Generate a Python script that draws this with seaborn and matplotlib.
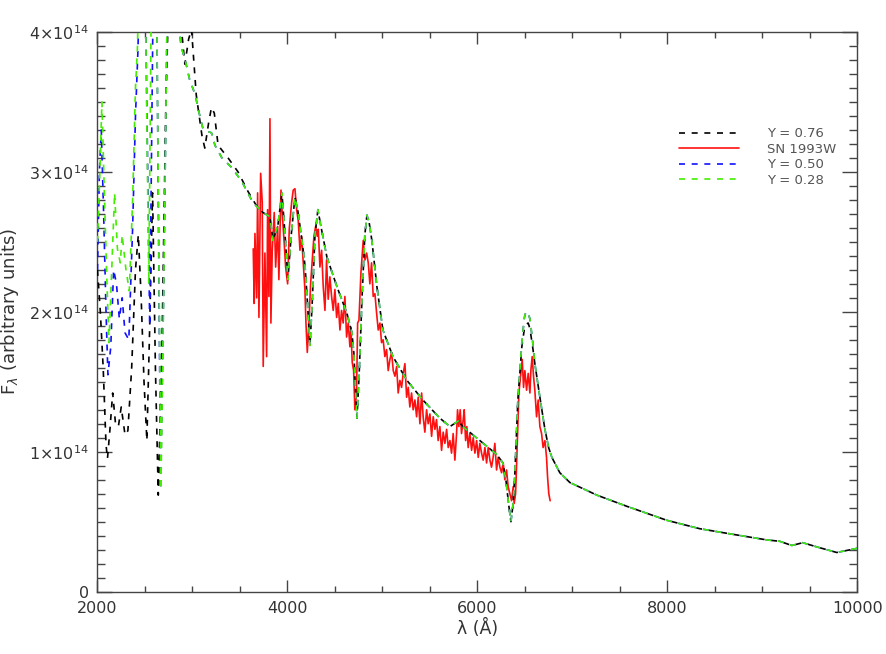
import matplotlib
matplotlib.use("Agg")
import matplotlib.pyplot as plt
import seaborn as sns
import numpy as np
import pandas as pd
from matplotlib.lines import Line2D
from matplotlib.ticker import MultipleLocator, FixedLocator, FixedFormatter

# ---------------- data (flux in units of 1e14, arbitrary) ----------------
# model Y = 0.76 (black)
black_wave = [2000, 2030, 2060, 2090, 2105, 2130, 2160, 2190, 2220, 2250, 2290, 2320,
              2360, 2400, 2430, 2460, 2490, 2520, 2550, 2580, 2610, 2640, 2680, 2720,
              2760, 2840, 2880, 2920, 2960, 2990, 3040, 3100, 3130, 3170, 3200, 3230,
              3270, 3375, 3480, 3585, 3690, 3742, 3816, 3847, 3900, 3942, 3975, 4005,
              4040, 4079, 4110, 4153, 4185, 4205, 4237, 4260, 4290, 4321, 4350, 4416,
              4521, 4626, 4679, 4700, 4711, 4732, 4755, 4784, 4815, 4837, 4860, 4889,
              4942, 5005, 5111, 5258, 5426, 5605, 5711, 5800, 5847, 6026, 6205, 6268,
              6300, 6330, 6353, 6375, 6395, 6426, 6468, 6495, 6511, 6535, 6553, 6580,
              6605, 6658, 6711, 6750, 6784, 6868, 6974, 7258, 7574, 7995, 8342, 8689,
              9047, 9184, 9311, 9426, 9574, 9784, 10000]
black_flux = [2.30, 2.00, 1.60, 1.05, 0.95, 1.15, 1.42, 1.20, 1.18, 1.32, 1.12, 1.15,
              1.60, 2.30, 2.55, 2.10, 1.50, 1.08, 1.90, 2.85, 1.60, 0.69, 1.80, 3.50,
              4.50, 4.50, 4.05, 3.77, 3.95, 4.02, 3.55, 3.26, 3.17, 3.35, 3.46, 3.42,
              3.19, 3.10, 3.00, 2.86, 2.74, 2.71, 2.68, 2.51, 2.62, 2.85, 2.55, 2.23,
              2.55, 2.82, 2.72, 2.51, 2.33, 2.13, 1.76, 2.05, 2.55, 2.73, 2.62, 2.39,
              2.18, 1.99, 1.85, 1.70, 1.53, 1.24, 1.55, 2.08, 2.55, 2.69, 2.64, 2.51,
              2.18, 1.87, 1.68, 1.51, 1.37, 1.24, 1.18, 1.22, 1.18, 1.08, 0.98, 0.92,
              0.80, 0.62, 0.50, 0.62, 0.85, 1.37, 1.75, 1.88, 1.91, 1.92, 1.88, 1.76,
              1.63, 1.39, 1.16, 1.03, 0.96, 0.85, 0.78, 0.69, 0.61, 0.51, 0.45, 0.41,
              0.37, 0.36, 0.33, 0.35, 0.32, 0.28, 0.31]

# optical part shared by the Y = 0.50 and Y = 0.28 models
opt_wave = [2760, 2850, 2880, 2930, 2970, 3030, 3060, 3110, 3150, 3200, 3237, 3310,
            3415, 3521, 3637, 3742, 3816, 3847, 3900, 3942, 3975, 4005, 4040, 4079,
            4110, 4153, 4185, 4205, 4237, 4260, 4290, 4321, 4350, 4416, 4521, 4626,
            4679, 4700, 4711, 4732, 4755, 4784, 4815, 4837, 4860, 4889, 4942, 5005,
            5111, 5258, 5426, 5605, 5711, 5800, 5847, 6026, 6205, 6268, 6300, 6330,
            6353, 6375, 6395, 6426, 6468, 6495, 6511, 6535, 6553, 6580, 6605, 6658,
            6711, 6750, 6784, 6868, 6974, 7258, 7574, 7995, 8342, 8689, 9047, 9184,
            9311, 9426, 9574, 9784, 10000]
opt_flux = [4.50, 4.10, 3.90, 3.78, 3.66, 3.55, 3.45, 3.31, 3.29, 3.28, 3.19, 3.10,
            3.03, 2.93, 2.78, 2.71, 2.68, 2.51, 2.62, 2.85, 2.55, 2.23, 2.55, 2.82,
            2.72, 2.51, 2.33, 2.13, 1.76, 2.05, 2.55, 2.73, 2.62, 2.39, 2.18, 1.99,
            1.85, 1.70, 1.53, 1.24, 1.55, 2.08, 2.55, 2.69, 2.64, 2.51, 2.18, 1.87,
            1.68, 1.51, 1.37, 1.24, 1.18, 1.22, 1.18, 1.08, 0.98, 0.92, 0.80, 0.62,
            0.50, 0.62, 0.85, 1.37, 1.78, 1.96, 2.00, 1.99, 1.95, 1.80, 1.63, 1.39,
            1.16, 1.03, 0.96, 0.85, 0.78, 0.69, 0.61, 0.51, 0.45, 0.41, 0.37, 0.36,
            0.33, 0.35, 0.32, 0.28, 0.31]

# ultraviolet part, Y = 0.50 (blue)
blue_uv_wave = [2000, 2020, 2040, 2065, 2090, 2110, 2140, 2170, 2200, 2230, 2260, 2290,
                2330, 2370, 2400, 2425, 2450, 2500, 2550, 2590, 2620, 2665, 2700, 2740]
blue_uv_flux = [2.30, 3.00, 3.30, 2.70, 2.00, 1.55, 1.75, 2.30, 2.20, 1.95, 2.10, 1.85,
                1.80, 2.60, 3.40, 3.85, 4.50, 4.50, 1.90, 4.50, 4.50, 0.73, 2.30, 4.50]

# ultraviolet part, Y = 0.28 (green)
green_uv_wave = [2000, 2025, 2047, 2070, 2100, 2121, 2150, 2180, 2210, 2240, 2260, 2300,
                 2335, 2370, 2400, 2420, 2440, 2500, 2540, 2570, 2620, 2668, 2700, 2740]
green_uv_flux = [2.50, 3.00, 3.50, 2.90, 2.20, 1.78, 2.30, 2.85, 2.45, 2.35, 2.55, 2.30,
                 2.15, 2.80, 3.60, 3.87, 4.50, 4.50, 2.20, 4.50, 4.50, 0.73, 2.30, 4.50]

# observed SN 1993W spectrum (red)
red_wave = [3640, 3650, 3658, 3676, 3686, 3700, 3718, 3735, 3745, 3763, 3781, 3791,
            3805, 3816, 3826, 3840, 3861, 3876, 3897, 3910, 3932, 3945, 3966, 3981,
            4002, 4019, 4044, 4061, 4079, 4097, 4114, 4132, 4149, 4166, 4184, 4195,
            4209, 4226, 4244, 4261, 4279, 4297, 4314, 4325, 4342, 4360, 4377, 4395,
            4412, 4429, 4447, 4465, 4482, 4500, 4518, 4535, 4553, 4570, 4587, 4605,
            4623, 4640, 4658, 4668, 4682, 4697, 4710, 4728, 4739, 4753, 4774, 4798,
            4816, 4834, 4851, 4868, 4886, 4903, 4921, 4939, 4956, 4974, 4991, 5008,
            5026, 5044, 5061, 5079, 5097, 5114, 5132, 5150, 5166, 5184, 5202, 5219,
            5237, 5255, 5272, 5289, 5307, 5324, 5342, 5360, 5377, 5395, 5413, 5429,
            5447, 5465, 5482, 5500, 5518, 5535, 5553, 5570, 5587, 5605, 5623, 5640,
            5658, 5676, 5693, 5711, 5728, 5745, 5763, 5781, 5791, 5805, 5819, 5833,
            5851, 5861, 5876, 5889, 5903, 5921, 5939, 5956, 5974, 5992, 6009, 6026,
            6044, 6061, 6079, 6097, 6114, 6132, 6149, 6166, 6184, 6202, 6219, 6237,
            6255, 6272, 6289, 6307, 6324, 6342, 6360, 6377, 6387, 6402, 6412, 6423,
            6437, 6458, 6472, 6486, 6500, 6518, 6535, 6553, 6563, 6577, 6591, 6605,
            6623, 6640, 6658, 6676, 6692, 6711, 6728, 6739, 6752, 6766]
red_flux = [2.45, 2.06, 2.56, 2.10, 2.85, 1.96, 2.99, 2.78, 1.61, 2.42, 1.68, 2.73,
            2.11, 3.38, 1.92, 2.44, 2.71, 2.32, 2.61, 2.23, 2.87, 2.71, 2.49, 2.32,
            2.20, 2.59, 2.78, 2.87, 2.88, 2.73, 2.65, 2.44, 2.54, 2.35, 2.16, 1.92,
            1.71, 1.92, 2.20, 2.37, 2.54, 2.61, 2.54, 2.59, 2.32, 2.44, 2.18, 2.01,
            2.37, 2.09, 2.25, 2.11, 2.01, 2.16, 1.96, 2.06, 1.87, 2.01, 1.92, 2.11,
            1.82, 1.92, 1.75, 1.89, 1.64, 1.58, 1.30, 1.42, 1.92, 1.94, 2.28, 2.51,
            2.37, 2.42, 2.35, 2.20, 2.35, 2.11, 2.13, 1.99, 1.87, 1.92, 1.78, 1.80,
            1.68, 1.73, 1.58, 1.66, 1.71, 1.58, 1.54, 1.61, 1.42, 1.51, 1.46, 1.56,
            1.63, 1.39, 1.46, 1.32, 1.42, 1.30, 1.37, 1.25, 1.39, 1.20, 1.42, 1.25,
            1.14, 1.30, 1.20, 1.27, 1.11, 1.25, 1.16, 1.23, 1.08, 1.18, 1.01, 1.14,
            1.06, 1.16, 1.03, 1.08, 0.99, 1.13, 0.94, 1.13, 1.30, 1.18, 1.30, 1.13,
            1.23, 1.30, 1.08, 1.18, 1.03, 1.13, 1.01, 1.10, 0.99, 1.08, 0.96, 1.06,
            0.99, 0.94, 1.03, 0.92, 1.03, 0.94, 0.89, 0.96, 1.06, 0.87, 0.96, 0.89,
            0.85, 0.92, 0.80, 0.87, 0.75, 0.70, 0.65, 0.75, 0.63, 0.70, 0.89, 1.13,
            1.42, 1.56, 1.66, 1.46, 1.58, 1.44, 1.56, 1.42, 1.58, 1.68, 1.54, 1.44,
            1.25, 1.37, 1.18, 1.13, 1.03, 1.08, 0.96, 0.82, 0.70, 0.65]

legend_labels = ["Y = 0.76", "SN 1993W", "Y = 0.50", "Y = 0.28"]
ytick_values = [0, 1, 2, 3, 4]
ytick_labels = ["0", r"1$\times$10$^{14}$", r"2$\times$10$^{14}$",
                r"3$\times$10$^{14}$", r"4$\times$10$^{14}$"]
xtick_values = [2000, 4000, 6000, 8000, 10000]

# ---------------- styling ----------------
sns.set_theme(style="ticks")
plt.rcParams["font.family"] = ["DejaVu Sans"]
plt.rcParams["mathtext.fontset"] = "dejavusans"

TXT = "#333333"
C_BLACK = "#000000"
C_RED = "#ff1010"
C_BLUE = "#1010ff"
C_GREEN = "#44ee00"
DASH = (0, (3.6, 4.0))

fig = plt.figure(figsize=(8.87, 6.54), dpi=100)
ax = fig.add_axes([0.1099, 0.0953, 0.8566, 0.8558])

red_df = pd.DataFrame({"wave": red_wave, "flux": red_flux})
black_df = pd.DataFrame({"wave": black_wave, "flux": black_flux})
blue_df = pd.DataFrame({"wave": blue_uv_wave + opt_wave, "flux": blue_uv_flux + opt_flux})
green_df = pd.DataFrame({"wave": green_uv_wave + opt_wave, "flux": green_uv_flux + opt_flux})

series = [(red_df, C_RED, "-", 2), (black_df, C_BLACK, DASH, 3),
          (blue_df, C_BLUE, DASH, 4), (green_df, C_GREEN, DASH, 5)]
for df, col, ls, z in series:
    n_before = len(ax.lines)
    sns.lineplot(data=df, x="wave", y="flux", ax=ax, sort=False, estimator=None,
                 color=col, linewidth=1.2, zorder=z)
    for ln in ax.lines[n_before:]:
        ln.set_linestyle(ls)
        ln.set_zorder(z)

ax.set_xlim(2000, 10000)
ax.set_ylim(0, 4)

ax.xaxis.set_major_locator(FixedLocator(xtick_values))
ax.xaxis.set_minor_locator(MultipleLocator(500))
ax.yaxis.set_major_locator(FixedLocator(ytick_values))
ax.yaxis.set_major_formatter(FixedFormatter(ytick_labels))
ax.yaxis.set_minor_locator(MultipleLocator(0.1))

ax.tick_params(which="both", direction="in", top=True, right=True,
               color="#444444", labelcolor=TXT, labelsize=11.5)
ax.tick_params(axis="x", which="major", length=8.6, width=1.0, pad=7)
ax.tick_params(axis="x", which="minor", length=4.3, width=1.0)
ax.tick_params(axis="y", which="major", length=10.8, width=1.0, pad=6)
ax.tick_params(axis="y", which="minor", length=5.8, width=1.0)

for sp in ax.spines.values():
    sp.set_visible(True)
    sp.set_color("#444444")
    sp.set_linewidth(1.0)

ax.set_xlabel("λ (Å)", fontsize=12.5, color=TXT, labelpad=2)
ax.set_ylabel(r"F$_\lambda$ (arbitrary units)", fontsize=13, color=TXT, labelpad=6)

handles = [
    Line2D([], [], color=C_BLACK, linewidth=1.2, linestyle=DASH),
    Line2D([], [], color=C_RED, linewidth=1.2),
    Line2D([], [], color=C_BLUE, linewidth=1.2, linestyle=DASH),
    Line2D([], [], color=C_GREEN, linewidth=1.2, linestyle=DASH),
]
leg = ax.legend(handles, legend_labels, loc="upper left",
                bbox_to_anchor=(0.765, 0.83), frameon=False, fontsize=9.5,
                handlelength=4.6, handletextpad=2.1, labelspacing=0.2,
                borderaxespad=0, borderpad=0)
for t in leg.get_texts():
    t.set_color("#555555")

fig.savefig("out.png", dpi=100)
